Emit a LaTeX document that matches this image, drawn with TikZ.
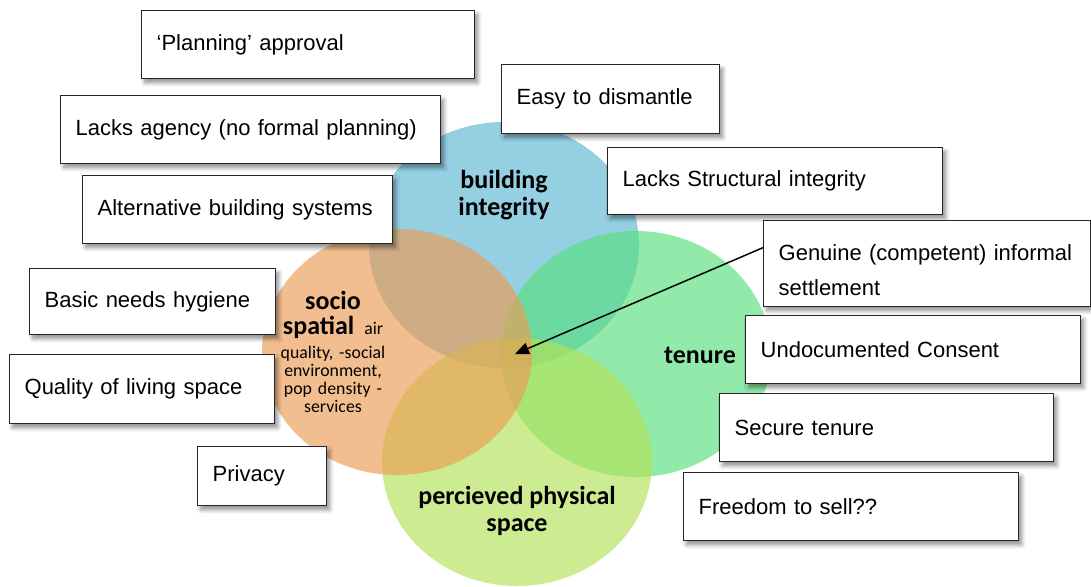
\documentclass[tikz,border=0pt]{standalone}
\usepackage{fontspec}
\setmainfont{Liberation Sans}
\newfontfamily\calib{Carlito}
\usetikzlibrary{arrows.meta,shadows.blur}

\definecolor{vennblue}{RGB}{91,183,211}
\definecolor{vennorange}{RGB}{237,155,83}
\definecolor{venngreen}{RGB}{88,223,125}
\definecolor{vennlime}{RGB}{178,225,86}

\begin{document}
\begin{tikzpicture}[
    x=0.5pt, y=-0.5pt,
    >={Triangle[length=7pt,width=6pt]},
    venn/.style={fill opacity=0.65},
    tag/.style 2 args={draw=black!85, fill=white, line width=0.65pt, anchor=north west,
        inner xsep=7.5pt, inner ysep=0pt, text width=#1, minimum height=#2, align=left,
        font=\fontsize{11}{17.5}\selectfont,
        blur shadow={shadow xshift=1.5pt, shadow yshift=-2pt, shadow blur steps=6, shadow opacity=45}},
    topic/.style={font=\calib\bfseries\fontsize{13}{13.5}\selectfont, align=center}
]
    \useasboundingbox (0,0) rectangle (1091,586);

    % the four overlapping sets
    \fill[venn, vennblue]   (504,245) ellipse [x radius=135, y radius=123];
    \fill[venn, venngreen]  (636,354) ellipse [x radius=135, y radius=123];
    \fill[venn, vennlime]   (517,462) ellipse [x radius=135, y radius=124];
    \fill[venn, vennorange] (397,352) ellipse [x radius=135, y radius=123];

    \node[topic] (building) at (504,195) {building\\integrity};
    \node[topic] (tenure) at (700,355) {tenure};
    \node[topic] (physical) at (517,511) {percieved physical\\space};
    \node[align=center, text width=66pt, font=\calib\fontsize{8.9}{9}\selectfont] (socio) at (333,352)
        {\fontsize{13}{12.5}\selectfont\bfseries socio\\spatial\hspace{5pt}\mdseries\fontsize{8.9}{12.5}\selectfont air\\
         \fontsize{8.9}{12}\selectfont quality, -social\\
         \fontsize{8.9}{9}\selectfont environment,\\pop density -\\services};

    % notes round the diagram
    \node[tag={151.5pt}{34pt}] (plan) at (141,10) {`Planning' approval};
    \node[tag={175pt}{34pt}] (agency) at (60,95) {Lacks agency (no formal planning)};
    \node[tag={140pt}{34pt}] (altsys) at (82,175) {Alternative building systems};
    \node[tag={94pt}{34.5pt}] (dismantle) at (501,64) {Easy to dismantle};
    \node[tag={152.5pt}{33.5pt}] (struct) at (607,147) {Lacks Structural integrity};
    \node[tag={148.5pt}{43pt}, text height=14pt] (genuine) at (763,220) {Genuine (competent) informal\\settlement};
    \node[tag={108pt}{33pt}] (hygiene) at (29,268) {Basic needs hygiene};
    \node[tag={117.5pt}{34.5pt}] (living) at (9,354) {Quality of living space};
    \node[tag={152.5pt}{34pt}] (consent) at (745,315) {Undocumented Consent};
    \node[tag={152pt}{34pt}] (secure) at (719,393) {Secure tenure};
    \node[tag={49.5pt}{29.5pt}] (privacy) at (197,446) {Privacy};
    \node[tag={152.5pt}{34pt}] (sell) at (683,472) {Freedom to sell??};

    \coordinate (core) at (515,354);
    \draw[->, line width=0.75pt] ([yshift=8pt]genuine.west) -- (core);
\end{tikzpicture}
\end{document}
